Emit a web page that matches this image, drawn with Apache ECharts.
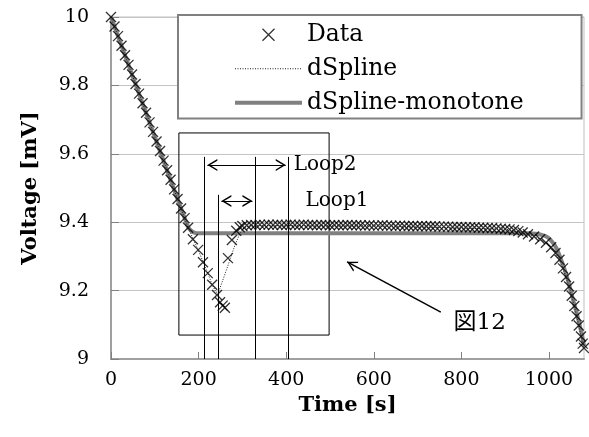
<!DOCTYPE html>
<html>
<head>
<meta charset="utf-8">
<script src="https://cdn.jsdelivr.net/npm/echarts@6/dist/echarts.min.js"></script>
<style>html,body{margin:0;padding:0;background:#fff;}#c{width:589px;height:437px;}</style>
</head>
<body>
<div id="c"></div>
<script>
// ---- Data ----
const dataTime = [0,8,16,24,32,40,48,56,64,72,80,88,96,104,112,120,128,136,144,152,160,168,176,
  187,199,210,221,231,242,249,255,260,
  267,276,286,294,
  300,310,320,330,340,350,360,370,380,390,400,410,420,430,440,450,460,470,480,490,500,510,520,530,540,550,560,570,580,590,600,610,620,630,640,650,660,670,680,690,700,710,720,730,740,750,760,770,780,790,800,810,820,830,840,850,860,870,880,890,900,910,920,930,940,
  952,966,980,993,1005,1015,1024,1032,1039,1046,1052,1058,1063,1068,1073,1077,1080];
const dataVolt = [10.000,9.972,9.944,9.916,9.888,9.860,9.832,9.804,9.776,9.748,9.720,9.692,9.664,9.636,9.608,9.580,9.552,9.524,9.496,9.468,9.440,9.412,9.384,
  9.350,9.319,9.283,9.251,9.217,9.187,9.166,9.156,9.150,
  9.295,9.348,9.375,9.385,
  9.389,9.391,9.392,9.392,9.393,9.392,9.393,9.392,9.393,9.392,9.392,9.393,9.392,9.392,9.393,9.392,9.392,9.391,9.392,9.392,9.391,9.392,9.391,9.391,9.392,9.391,9.391,9.391,9.390,9.391,9.390,9.390,9.391,9.390,9.390,9.389,9.390,9.389,9.389,9.389,9.388,9.389,9.388,9.388,9.388,9.387,9.387,9.387,9.386,9.386,9.386,9.385,9.385,9.385,9.384,9.384,9.383,9.383,9.382,9.381,9.380,9.379,9.377,9.374,9.370,
  9.365,9.358,9.350,9.340,9.327,9.310,9.290,9.265,9.240,9.212,9.185,9.155,9.125,9.098,9.066,9.045,9.032];

const splineTime = [0,100,176,199,221,231,240,246,264,283,294,304,316,600,900,940,966,993,1015,1032,1046,1058,1068,1077,1080];
const splineVolt = [10.000,9.650,9.384,9.319,9.251,9.217,9.195,9.197,9.262,9.333,9.366,9.384,9.390,9.390,9.380,9.370,9.358,9.340,9.310,9.265,9.212,9.155,9.098,9.045,9.032];

const monoTime = [0,100,176,184,192,200,300,600,900,950,970,985,998,1009,1018,1025,1033,1041,1048,1055,1063,1071,1080];
const monoVolt = [10.000,9.650,9.386,9.374,9.369,9.368,9.368,9.368,9.368,9.368,9.366,9.362,9.355,9.340,9.322,9.300,9.272,9.240,9.208,9.173,9.135,9.094,9.040];

const seriesNames = ['Data','dSpline','dSpline-monotone'];
const xTickMax = 1080, xTickStep = 200;
const yTickMin = 9, yTickMax = 10, yTickStep = 0.2;

// annotation values (data coordinates)
const boxCorners = [[155, 9.661],[498, 9.070]];
const loopVerticals = [[212, 9.591],[244, 9.480],[329, 9.591],[404, 9.591]];
const loop2Arrow = [[220, 9.567],[399, 9.567]];
const loop1Arrow = [[252, 9.462],[323, 9.462]];
const figArrow = [[753, 9.137],[539, 9.284]];
const textNotes = [['Loop2', 416, 9.567, 20],['Loop1', 443, 9.462, 20],['図12', 781, 9.105, 23]];

const FONT = '"DejaVu Serif", "Noto Sans CJK JP", serif';
const CROSS = 'path://M0,0L10,10M10,0L0,10';
const CHEV = 'path://M5,0M0,20L5,10L10,20L8.6,20L5,12.8L1.4,20Z';

const chart = echarts.init(document.getElementById('c'), null, {renderer:'canvas'});

const pair = (a, b) => a.map((v, i) => [v, b[i]]);

const markLines = [];
loopVerticals.forEach(v => markLines.push([{coord:[v[0], v[1]]},{coord:[v[0], yTickMin]}]));
[loop2Arrow, loop1Arrow].forEach(a => markLines.push([
  {coord:a[0], symbol:CHEV, symbolSize:[12,20]},
  {coord:a[1], symbol:CHEV, symbolSize:[12,20]}]));
markLines.push([{coord:figArrow[0], symbol:'none', lineStyle:{width:1.5}},{coord:figArrow[1], symbol:CHEV, symbolSize:[11,20], lineStyle:{width:1.5}}]);

const noSym = {color:'transparent', borderColor:'transparent', borderWidth:0, opacity:0};

const option = {
  animation: false,
  backgroundColor: '#fff',
  grid: {left:111, top:17, right:5, bottom:78, show:true, borderColor:'#bfbfbf', borderWidth:1},
  legend: {
    data: [
      {name:'Data', icon:CROSS, itemStyle:{color:'transparent', borderColor:'#000', borderWidth:1.3}},
      {name:'dSpline', itemStyle:noSym, lineStyle:{color:'#222', width:1, type:[1,1.5]}},
      {name:'dSpline-monotone', itemStyle:noSym, lineStyle:{color:'#808080', width:4}}
    ],
    orient:'vertical', left:178, top:15,
    padding:[8,58,4,55], itemWidth:67, itemHeight:12, itemGap:10.5,
    borderColor:'#808080', borderWidth:2, backgroundColor:'#fff',
    selectedMode:false,
    textStyle:{fontFamily:FONT, fontSize:23.5, color:'#000', lineHeight:21}
  },
  xAxis: {
    type:'value', min:0, max:xTickMax, interval:xTickStep,
    name:'Time [s]', nameLocation:'middle', nameGap:28,
    nameTextStyle:{fontFamily:FONT, fontSize:21, fontWeight:'bold', color:'#000'},
    axisLine:{show:true, lineStyle:{color:'#a0a0a0', width:2}},
    axisTick:{show:true, inside:true, length:7, lineStyle:{color:'#808080'}},
    axisLabel:{fontFamily:FONT, fontSize:19, color:'#000', margin:12, showMaxLabel:false, formatter: v => String(v)},
    splitLine:{show:false}
  },
  yAxis: {
    type:'value', min:yTickMin, max:yTickMax, interval:yTickStep,
    name:'Voltage [mV]', nameLocation:'middle', nameGap:70, nameRotate:90,
    nameTextStyle:{fontFamily:FONT, fontSize:21, fontWeight:'bold', color:'#000'},
    axisLine:{show:true, lineStyle:{color:'#a0a0a0', width:2}},
    axisTick:{show:true, inside:true, length:8, lineStyle:{color:'#808080'}},
    axisLabel:{fontFamily:FONT, fontSize:19, color:'#000', margin:22},
    splitLine:{show:true, lineStyle:{color:'#c4c4c4', width:1}}
  },
  series: [
    {
      name:'dSpline-monotone', type:'line', data:pair(monoTime, monoVolt),
      symbol:'none', smooth:0.3, z:2,
      lineStyle:{color:'#808080', width:4}, itemStyle:{color:'#808080'}
    },
    {
      name:'dSpline', type:'line', data:pair(splineTime, splineVolt),
      symbol:'none', z:3,
      lineStyle:{color:'#222', width:1, type:[1,1.5]}, itemStyle:{color:'#222'}
    },
    {
      name:'Data', type:'scatter', data:pair(dataTime, dataVolt),
      symbol:CROSS, symbolSize:10, z:4,
      itemStyle:{color:'transparent', borderColor:'#000', borderWidth:1.3}
    },
    {
      name:'annot', type:'line', data:[], z:5, silent:true,
      markArea:{silent:true, itemStyle:{color:'transparent', borderColor:'#000', borderWidth:1},
        data:[[{coord:boxCorners[0]},{coord:boxCorners[1]}]]},
      markLine:{silent:true, symbol:'none', label:{show:false},
        lineStyle:{color:'#000', width:1, type:'solid'},
        emphasis:{disabled:true}, data:markLines},
      markPoint:{silent:true, symbol:'circle', symbolSize:1, itemStyle:{color:'transparent'},
        data:textNotes.map(t => ({name:t[0], coord:[t[1], t[2]],
          label:{show:true, formatter:'{b}', position:'right', distance:0,
            fontFamily:FONT, fontSize:t[3], color:'#000'}}))}
    }
  ]
};
chart.setOption(option);
</script>
</body>
</html>
